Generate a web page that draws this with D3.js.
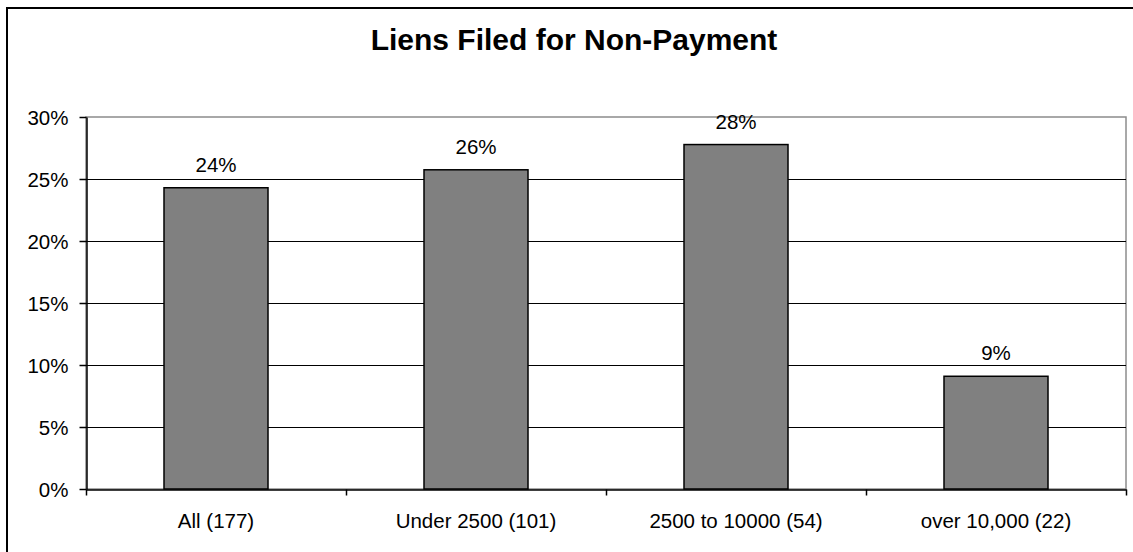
<!DOCTYPE html>
<html>
<head>
<meta charset="utf-8">
<script src="https://cdn.jsdelivr.net/npm/d3@7"></script>
<style>
  body { margin: 0; background: #fff; }
  svg text { font-family: "Liberation Sans", Arial, sans-serif; fill: #000; }
</style>
</head>
<body>
<div id="cContainer"></div>
<script>
// chart data
var categories = ["All (177)", "Under 2500 (101)", "2500 to 10000 (54)", "over 10,000 (22)"];
var values = [43 / 177, 26 / 101, 15 / 54, 2 / 22];
var valueLabels = ["24%", "26%", "28%", "9%"];
var yTicks = [0, 0.05, 0.10, 0.15, 0.20, 0.25, 0.30];
var yTickLabels = ["0%", "5%", "10%", "15%", "20%", "25%", "30%"];
var title = "Liens Filed for Non-Payment";

var width = 1133, height = 552;
var plotLeft = 86, plotRight = 1126, plotTop = 117, plotBottom = 489;

var svg = d3.select("#cContainer").append("svg")
	.attr("width", width)
	.attr("height", height);

// outer chart frame (runs past the picture on the right and bottom)
svg.append("rect")
	.attr("x", 7).attr("y", 8)
	.attr("width", 1170).attr("height", 570)
	.attr("fill", "#fff")
	.attr("stroke", "#000")
	.attr("stroke-width", 2);

svg.append("text")
	.attr("x", 574).attr("y", 50)
	.attr("text-anchor", "middle")
	.style("font-size", "30px")
	.style("font-weight", "bold")
	.text(title);

var x = d3.scaleBand()
	.domain(categories)
	.range([plotLeft, plotRight])
	.paddingInner(0.6)
	.paddingOuter(0.3);

var y = d3.scaleLinear()
	.domain([0, 0.3])
	.range([plotBottom, plotTop]);

// plot area border (grey top / right)
svg.append("rect")
	.attr("x", plotLeft).attr("y", y(0.3))
	.attr("width", plotRight - plotLeft).attr("height", plotBottom - y(0.3))
	.attr("fill", "none")
	.attr("stroke", "#8c8c8c")
	.attr("stroke-width", 1.5);

// gridlines
svg.selectAll("line.grid")
	.data(yTicks.filter(function(d) { return d > 0 && d < 0.3; }))
	.enter().append("line")
	.attr("class", "grid")
	.attr("x1", plotLeft).attr("x2", plotRight)
	.attr("y1", function(d) { return Math.round(y(d)) + 0.5; })
	.attr("y2", function(d) { return Math.round(y(d)) + 0.5; })
	.attr("stroke", "#000")
	.attr("stroke-width", 1);

// bars
svg.selectAll("rect.bar")
	.data(values)
	.enter().append("rect")
	.attr("class", "bar")
	.attr("x", function(d, i) { return x(categories[i]); })
	.attr("y", function(d) { return y(d); })
	.attr("width", x.bandwidth())
	.attr("height", function(d) { return y(0) - y(d); })
	.attr("fill", "#808080")
	.attr("stroke", "#000")
	.attr("stroke-width", 1.5);

// value labels
svg.selectAll("text.val")
	.data(values)
	.enter().append("text")
	.attr("class", "val")
	.attr("x", function(d, i) { return x(categories[i]) + x.bandwidth() / 2; })
	.attr("y", function(d) { return y(d) - 16; })
	.attr("text-anchor", "middle")
	.style("font-size", "20.5px")
	.text(function(d, i) { return valueLabels[i]; });

// y axis
var yAxis = d3.axisLeft(y)
	.tickValues(yTicks)
	.tickFormat(function(d, i) { return yTickLabels[i]; })
	.tickSize(7)
	.tickPadding(11)
	.tickSizeOuter(0);
var gy = svg.append("g")
	.attr("transform", "translate(" + (plotLeft + 0.5) + ",0)")
	.call(yAxis);
gy.selectAll("text").style("font-size", "20.5px").attr("dy", "0.38em");
gy.selectAll("line, path").attr("stroke", "#000").attr("stroke-width", 1.5);

// x axis
var xAxis = d3.axisBottom(x)
	.tickSize(0)
	.tickPadding(24)
	.tickSizeOuter(0);
var gx = svg.append("g")
	.attr("transform", "translate(0," + (plotBottom + 0.5) + ")")
	.call(xAxis);
gx.selectAll("text").style("font-size", "20.5px");
gx.select("path").attr("stroke", "#000").attr("stroke-width", 1.5);

// category separator ticks
var boundaries = d3.range(categories.length + 1).map(function(i) { return plotLeft + i * x.step(); });
gx.selectAll("line.sep")
	.data(boundaries)
	.enter().append("line")
	.attr("class", "sep")
	.attr("x1", function(d) { return Math.round(d) + 0.5; })
	.attr("x2", function(d) { return Math.round(d) + 0.5; })
	.attr("y1", 0).attr("y2", 6)
	.attr("stroke", "#000")
	.attr("stroke-width", 1.5);
</script>
</body>
</html>
